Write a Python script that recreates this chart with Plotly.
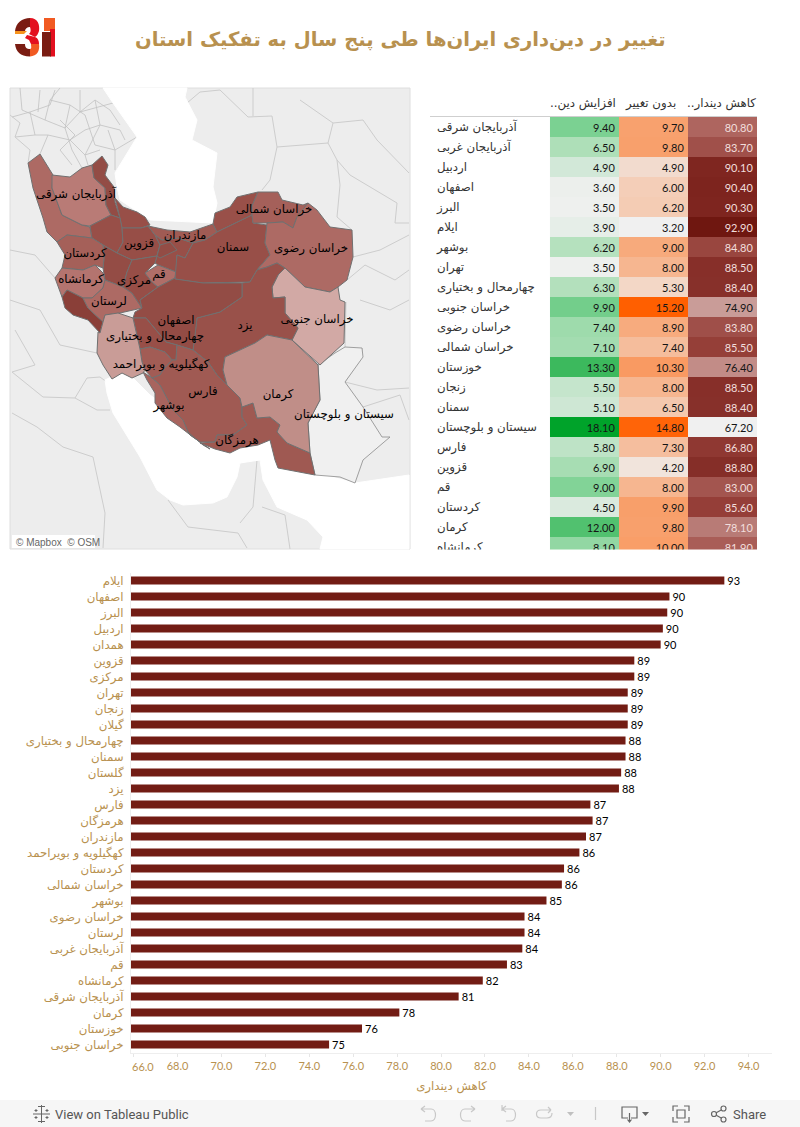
import numpy as np
import plotly.graph_objects as go

TITLE = "تغییر در دین‌داری ایران‌ها طی پنج سال به تفکیک استان"
TAN = "#b8914f"
FONT = "Lato, 'DejaVu Sans'"
AR = "'DejaVu Sans'"
RLM = "\u200f"

# ---------- bar chart data
bar_names = ["ایلام", "اصفهان", "البرز", "اردبیل", "همدان", "قزوین", "مرکزی", "تهران", "زنجان", "گیلان",
             "چهارمحال و بختیاری", "سمنان", "گلستان", "یزد", "فارس", "هرمزگان", "مازندران",
             "کهگیلویه و بویراحمد", "کردستان", "خراسان شمالی", "بوشهر", "خراسان رضوی", "لرستان",
             "آذربایجان غربی", "قم", "کرمانشاه", "آذربایجان شرقی", "کرمان", "خوزستان", "خراسان جنوبی"]
bar_values = [92.9, 90.4, 90.3, 90.1, 90.0, 88.8, 88.8, 88.5, 88.5, 88.5,
              88.4, 88.4, 88.2, 88.1, 86.8, 86.9, 86.6,
              86.3, 85.6, 85.5, 84.8, 83.8, 83.8,
              83.7, 83.0, 81.9, 80.8, 78.1, 76.4, 74.9]
x_ticks = [66, 68, 70, 72, 74, 76, 78, 80, 82, 84, 86, 88, 90, 92, 94]

# ---------- table data
table_names = ["آذربایجان شرقی", "آذربایجان غربی", "اردبیل", "اصفهان", "البرز", "ایلام", "بوشهر", "تهران",
               "چهارمحال و بختیاری", "خراسان جنوبی", "خراسان رضوی", "خراسان شمالی", "خوزستان", "زنجان",
               "سمنان", "سیستان و بلوچستان", "فارس", "قزوین", "قم", "کردستان", "کرمان", "کرمانشاه"]
table_increase = [9.4, 6.5, 4.9, 3.6, 3.5, 3.9, 6.2, 3.5, 6.3, 9.9, 7.4, 7.1, 13.3, 5.5, 5.1, 18.1, 5.8, 6.9, 9.0, 4.5, 12.0, 8.1]
table_same = [9.7, 9.8, 4.9, 6.0, 6.2, 3.2, 9.0, 8.0, 5.3, 15.2, 8.9, 7.4, 10.3, 8.0, 6.5, 14.8, 7.3, 4.2, 8.0, 9.9, 9.8, 10.0]
table_decline = [80.8, 83.7, 90.1, 90.4, 90.3, 92.9, 84.8, 88.5, 88.4, 74.9, 83.8, 85.5, 76.4, 88.5, 88.4, 67.2, 86.8, 88.8, 83.0, 85.6, 78.1, 81.9]
table_headers = ["افزایش دین.." + RLM, "بدون تغییر", "کاهش دیندار.." + RLM]

# colour ramps (value, colour) for the three table columns and the map
increase_ramp = [(3.5, "#eef0ee"), (4.9, "#d2e8d8"), (6.5, "#aedfb8"), (9.4, "#7bd192"), (13.3, "#3cb95d"), (18.1, "#00a32a")]
same_ramp = [(3.2, "#f0f0f0"), (15.2, "#ff5f00")]
decline_ramp = [(67.2, "#f0f0f0"), (74.9, "#c99c98"), (76.4, "#c28c87"), (78.1, "#b87b76"), (80.8, "#ae655f"),
                (83.7, "#a0504a"), (85.5, "#953f38"), (88.4, "#87302a"), (90.3, "#7e251f"), (92.9, "#6f1710")]
map_ramp = [(67.2, "#f0f0f0"), (74.9, "#d2a9a5"), (78.1, "#c08e88"), (80.8, "#b97b76"), (83.8, "#ad6a64"),
            (86.8, "#a05a53"), (88.5, "#984f48"), (90.4, "#934c45"), (92.9, "#8a3f38")]


def colorscale(ramp):
    lo, hi = ramp[0][0], ramp[-1][0]
    return [[(v - lo) / (hi - lo), c] for v, c in ramp]


def ramp_color(ramp, v):
    xs = [p[0] for p in ramp]
    rgb = [[int(p[1][i:i + 2], 16) for p in ramp] for i in (1, 3, 5)]
    return "rgb(%d,%d,%d)" % tuple(np.interp(v, xs, ch) for ch in rgb)


# ---------- map geometry in map units
provinces = {
    "سیستان و بلوچستان": [(318,365),(335,353),(345,347),(362,348),(363,357),(345,382),(363,407),(382,437),(390,437),(363,460),(355,483),(340,477),(315,475),(310,453),(308,423),(320,400)],
    "آذربایجان غربی": [(28,163),(40,154),(53,175),(52,188),(62,215),(82,225),(90,227),(92,238),(67,235),(57,242),(47,232),(43,218),(33,188)],
    "آذربایجان شرقی": [(52,175),(70,177),(82,168),(92,165),(94,178),(105,188),(106,205),(111,215),(90,226),(82,225),(62,215),(52,188)],
    "اردبیل": [(92,165),(102,156),(108,165),(105,175),(114,187),(115,202),(120,218),(111,215),(106,205),(105,188),(94,178)],
    "گیلان": [(115,198),(123,207),(137,212),(145,217),(150,225),(141,228),(122,228),(120,218)],
    "زنجان": [(90,226),(111,215),(120,218),(122,228),(123,242),(117,253),(103,245),(92,238)],
    "قزوین": [(122,228),(141,228),(148,226),(155,235),(160,245),(157,256),(132,260),(117,253),(123,242)],
    "تهران": [(155,235),(162,240),(178,238),(193,243),(185,258),(177,255),(176,272),(158,265),(155,263),(157,256),(160,245)],
    "البرز": [(160,245),(170,242),(177,250),(160,258),(157,256)],
    "همدان": [(103,245),(117,253),(132,260),(127,272),(123,287),(105,280),(103,268),(104,258)],
    "کردستان": [(57,242),(67,235),(92,238),(103,245),(104,258),(103,268),(95,265),(83,270),(62,268),(65,255)],
    "کرمانشاه": [(62,268),(83,270),(95,265),(103,273),(105,280),(103,288),(92,298),(83,298),(67,290),(62,297),(55,278)],
    "ایلام": [(62,297),(67,290),(83,298),(88,308),(103,322),(100,333),(88,320),(73,315),(65,308)],
    "لرستان": [(83,298),(92,298),(103,288),(105,280),(123,287),(132,293),(142,308),(120,313),(105,315),(103,322),(88,308)],
    "مرکزی": [(132,260),(157,256),(155,263),(145,273),(152,282),(158,287),(140,300),(142,308),(132,293),(123,287),(127,272)],
    "قم": [(145,273),(158,265),(176,272),(175,278),(158,287),(152,282)],
    "مازندران": [(148,226),(167,230),(190,232),(213,224),(217,232),(205,240),(193,243),(178,238),(162,240),(155,235)],
    "گلستان": [(213,224),(215,213),(230,207),(237,197),(258,192),(252,206),(252,215),(217,232)],
    "سمنان": [(217,232),(252,215),(253,223),(267,225),(265,243),(270,255),(257,270),(250,282),(203,283),(175,279),(177,255),(185,258),(193,243),(205,240)],
    "خراسان شمالی": [(258,192),(278,192),(282,200),(303,205),(308,203),(297,217),(293,228),(283,222),(267,223),(253,223),(252,215),(252,206)],
    "خراسان رضوی": [(308,203),(317,210),(330,227),(352,230),(353,257),(347,280),(338,287),(330,292),(305,287),(285,268),(277,263),(267,267),(257,270),(270,255),(265,243),(267,223),(283,222),(293,228),(297,217)],
    "خراسان جنوبی": [(278,275),(285,268),(305,287),(330,292),(338,287),(340,300),(345,302),(344,343),(320,365),(292,340),(298,328),(285,313),(285,297),(273,298),(272,287)],
    "یزد": [(285,268),(277,263),(267,267),(257,270),(250,282),(242,283),(242,297),(220,312),(197,318),(195,335),(193,350),(208,362),(217,375),(227,385),(223,370),(225,357),(255,343),(267,335),(292,340),(298,328),(285,313),(285,297),(273,298),(272,287),(278,275)],
    "اصفهان": [(133,318),(135,312),(142,308),(140,300),(158,287),(175,278),(175,279),(203,283),(242,283),(242,297),(220,312),(197,318),(195,335),(193,350),(177,345),(166,342),(146,318)],
    "چهارمحال و بختیاری": [(133,318),(146,318),(166,342),(177,345),(176,360),(172,360),(165,352),(150,347),(140,349)],
    "کهگیلویه و بویراحمد": [(140,349),(150,347),(165,352),(172,360),(163,370),(160,375),(152,378),(145,370),(142,362)],
    "فارس": [(176,360),(177,345),(193,350),(208,362),(217,375),(227,385),(240,398),(242,407),(242,417),(247,425),(233,435),(217,435),(215,442),(200,442),(190,435),(188,432),(183,420),(173,410),(160,385),(152,378),(160,375),(163,370),(172,360)],
    "بوشهر": [(143,372),(152,378),(160,385),(173,410),(183,420),(188,432),(203,445),(210,449),(193,437),(180,427),(167,418),(155,403),(155,393),(147,380)],
    "هرمزگان": [(253,403),(242,407),(242,417),(247,425),(233,435),(217,435),(215,442),(200,443),(215,449),(230,453),(240,448),(258,445),(270,440),(275,460),(278,468),(315,475),(310,453),(287,443),(277,432),(280,425),(270,417),(257,418)],
    "کرمان": [(225,357),(255,343),(267,335),(292,340),(318,365),(320,400),(308,423),(310,453),(287,443),(277,432),(280,425),(270,417),(257,418),(253,403),(242,407),(240,398),(227,385),(223,370)],
    "خوزستان": [(105,315),(118,313),(133,318),(140,349),(142,362),(145,370),(143,373),(132,378),(122,373),(112,379),(103,365),(97,353),(98,332),(100,333),(103,322)],
}
decline_by_name = dict(zip(bar_names, bar_values))
decline_by_name["سیستان و بلوچستان"] = 67.2

map_labels = [("آذربایجان شرقی", 76, 195), ("خراسان شمالی", 274, 210), ("مازندران", 185, 236), ("قزوین", 139, 244),
              ("سمنان", 233, 248), ("خراسان رضوی", 311, 249), ("کردستان", 85, 254), ("قم", 159, 275),
              ("کرمانشاه", 81, 280), ("مرکزی", 134, 281), ("لرستان", 109, 302), ("خراسان جنوبی", 317, 320),
              ("اصفهان", 176, 321), ("یزد", 245, 326), ("چهارمحال و بختیاری", 155, 337),
              ("کهگیلویه و بویراحمد", 161, 365), ("فارس", 203, 392), ("کرمان", 278, 395), ("بوشهر", 169, 406),
              ("سیستان و بلوچستان", 344, 415), ("هرمزگان", 237, 441)]

caspian = [(103,88),(113,103),(137,137),(115,173),(117,187),(120,200),(150,220),(213,223),(217,203),(213,187),(217,153),(192,140),(197,120),(185,97),(187,88)]
gulf = [(105,380),(107,393),(113,413),(140,457),(157,490),(170,500),(183,505),(213,503),(227,497),(237,477),(240,463),(260,460),(263,480),(277,507),(307,520),(323,537),(320,549),(409,549),(409,475),(355,483),(313,472),(280,440),(200,430),(150,395),(125,370)]
land_lines = [
    [(187,103),(200,92),(220,90),(235,105),(248,117),(272,116),(277,145),(277,147),(328,143),(333,123),(363,120),(377,140),(409,173)],
    [(253,88),(253,116)],
    [(277,147),(270,180),(262,190)],
    [(328,143),(337,160),(350,175),(397,203),(395,223),(409,223)],
    [(337,160),(340,185),(337,217),(352,230)],
    [(362,348),(362,357),(345,382),(377,390),(409,388)],
    [(345,347),(346,302)],
    [(347,280),(365,265),(395,280),(409,270)],
    [(12,372),(43,397),(75,398),(87,378),(100,377),(108,383)],
    [(75,398),(97,410),(110,410)],
    [(168,500),(188,527),(238,533),(247,548)],
    [(240,523),(253,507),(257,460)],
    [(12,413),(37,427),(63,447),(93,457),(105,513),(103,548)],
    [(10,115),(20,123),(15,137),(30,150),(28,163)],
    [(10,250),(35,255),(55,278)],
    [(10,300),(40,310),(60,345),(97,353)],
    [(15,330),(35,365),(12,372)],
    [(363,407),(400,395),(409,420)],
    [(360,300),(390,310),(409,300)],
    [(353,257),(380,250),(409,235)],
    [(300,100),(333,123)],
    [(325,500),(345,495),(350,549)],
    [(262,507),(285,515),(290,549)],
]
thin_lines = [
    [(20,88),(22,110),(45,120),(50,100),(60,88)],
    [(45,120),(65,128),(80,112),(113,103)],
    [(40,154),(48,135),(70,140),(85,155),(100,150)],
    [(65,128),(72,150),(82,168)],
    [(85,115),(95,145),(115,150),(137,137)],
    [(12,117),(30,112),(50,105),(55,90)],
    [(50,100),(70,105),(85,115)],
    [(60,120),(75,135),(60,150)],
    [(80,112),(95,100),(110,110),(120,125)],
    [(95,100),(100,125),(85,155)],
    [(100,125),(120,130),(125,140)],
    [(70,105),(65,128)],
    [(30,112),(35,135),(48,135)],
    [(15,137),(35,135)],
    [(115,150),(115,170)],
    [(70,140),(85,130),(100,125)],
    [(60,150),(72,165)],
    [(85,155),(88,165)],
    [(108,130),(115,150)],
    [(40,90),(38,112)],
    [(80,90),(80,112)],
]


def xy(points):
    return [p[0] for p in points], [p[1] for p in points]


fig = go.Figure()

# ---------- page overlay axes (x2/y2): map
fig.add_trace(go.Scatter(x=[10, 410, 410, 10, 10], y=[88, 88, 549, 549, 88], mode="lines", fill="toself",
                         fillcolor="#ededed", line=dict(color="#dedede", width=1), xaxis="x2", yaxis="y2", hoverinfo="skip"))
for line in thin_lines:
    lx, ly = xy(line)
    fig.add_trace(go.Scatter(x=lx, y=ly, mode="lines", line=dict(color="#c2c2c2", width=0.8), xaxis="x2", yaxis="y2", hoverinfo="skip"))
for line in land_lines:
    lx, ly = xy(line)
    fig.add_trace(go.Scatter(x=lx, y=ly, mode="lines", line=dict(color="#cdcdcd", width=1), xaxis="x2", yaxis="y2", hoverinfo="skip"))
for sea in (caspian, gulf):
    sx, sy = xy(sea + sea[:1])
    fig.add_trace(go.Scatter(x=sx, y=sy, mode="lines", fill="toself", fillcolor="white", line=dict(color="white", width=1),
                             xaxis="x2", yaxis="y2", hoverinfo="skip"))
for name, pts in provinces.items():
    px, py = xy(pts + pts[:1])
    is_sistan = name == "سیستان و بلوچستان"
    fig.add_trace(go.Scatter(x=px, y=py, mode="lines", fill="toself",
                             fillcolor=ramp_color(map_ramp, decline_by_name[name]),
                             line=dict(color="#8a8a8a" if is_sistan else "#707070", width=0.8 if is_sistan else 1.0),
                             xaxis="x2", yaxis="y2", hoverinfo="skip"))
fig.add_trace(go.Scatter(x=[l[1] for l in map_labels], y=[l[2] for l in map_labels], text=[l[0] for l in map_labels],
                         mode="text", textposition="middle center", textfont=dict(family=AR, size=11.8, color="#000"),
                         xaxis="x2", yaxis="y2", hoverinfo="skip"))

# ---------- table
columns = [(table_increase, increase_ramp), (table_same, same_ramp), (table_decline, decline_ramp)]
rows = list(range(len(table_names)))
thresholds = [95, 125, 150]
for i, (vals, ramp) in enumerate(columns):
    fig.add_trace(go.Heatmap(z=[[v] for v in vals], x=[i], y=rows, colorscale=colorscale(ramp),
                             zmin=ramp[0][0], zmax=ramp[-1][0], showscale=False, xaxis="x3", yaxis="y3", hoverinfo="skip"))
    lum = []
    for v in vals:
        r, g, b = [float(t) for t in ramp_color(ramp, v)[4:-1].split(",")]
        lum.append(0.3 * r + 0.59 * g + 0.11 * b)
    light = "#f2dedc" if i == 2 else "#ffffff"
    colors = [light if l < thresholds[i] else "#151515" for l in lum]
    fig.add_trace(go.Scatter(x=[i + 0.44] * len(vals), y=[r + 0.12 for r in rows], text=["%.2f" % v for v in vals], mode="text",
                             textposition="middle left", textfont=dict(family=FONT, size=11, color=colors),
                             xaxis="x3", yaxis="y3", hoverinfo="skip"))
fig.add_trace(go.Scatter(x=[-2.138] * len(rows), y=[r + 0.05 for r in rows], text=table_names, mode="text", textposition="middle right",
                         textfont=dict(family=AR, size=11.8, color="#333"), xaxis="x3", yaxis="y3", hoverinfo="skip"))

# ---------- bars
fig.add_trace(go.Bar(y=bar_names, x=bar_values, orientation="h", marker=dict(color="#721c14", line=dict(width=0)), width=0.5,
                     texttemplate="%{x:.0f}", textposition="outside", cliponaxis=False, constraintext="none",
                     textfont=dict(family=FONT, size=11, color="#000"), hoverinfo="skip", xaxis="x", yaxis="y"))

W, H = 800.0, 1127.0
shapes = [
    dict(type="rect", xref="x2", yref="y2", x0=0, x1=800, y0=1100, y1=1127, fillcolor="#f6f6f6", line=dict(width=0), layer="below"),
    dict(type="line", xref="x2", yref="y2", x0=430, x1=757, y0=116.5, y1=116.5, line=dict(color="#cfcfcf", width=1)),
    dict(type="rect", xref="x2", yref="y2", x0=12, x1=95, y0=535, y1=548, fillcolor="white", line=dict(width=0), layer="above"),
]


def path(d, stroke=None, fill=None, width=1.2):
    shapes.append(dict(type="path", xref="x2", yref="y2", path=d, fillcolor=fill or "rgba(0,0,0,0)",
                       line=dict(color=stroke or "rgba(0,0,0,0)", width=width)))


# logo
path("M15,31 C16,23 22,18 30,18 L30,27 C27,27 25,29 25,31 Z", fill="#7a1c12")
path("M30,18 C38,18 40,25 39,31 C38,34 37,36 35,37 L29,34 C31,32 31,30 30,27 Z", fill="#e3101f")
path("M15,31 L27,31 L24,34 L15,34 Z", fill="#f7941d")
path("M27,35 L35,37 C38,38 39,41 39,44 L31,44 L29,40 L25,38 Z", fill="#e3101f")
path("M15,44 L25,44 C25,48 27,49 30,49 L30,56.5 C20,56 16,52 15,44 Z", fill="#7a1c12")
path("M30,49 C32,49 31,46 31,44 L39,44 C40,51 37,56 30,56.5 Z", fill="#f15a22")
path("M44,18 L55,18 L55,31 L44,31 Z", fill="#f15a22")
path("M50,29 L55,29 L55,56.5 L50,56.5 Z", fill="#e3101f")
path("M42,32 L51,32 L51,56.5 L42,56.5 Z", fill="#7a1c12")

# toolbar icons
LG = "#c8c8c8"
DG = "#666666"
path("M421,1109 L431,1109 C437,1109 437,1121 431,1121 L425,1121 M421,1109 L425,1106 M421,1109 L425,1112", stroke=LG)
path("M475,1109 L465,1109 C459,1109 459,1121 465,1121 L471,1121 M475,1109 L471,1106 M475,1109 L471,1112", stroke=LG)
path("M502,1109 L511,1109 C517,1109 517,1121 511,1121 L506,1121 M502,1105 L502,1111 M502,1109 L506,1106 M502,1109 L506,1112", stroke=LG)
path("M551,1110 L541,1110 C535,1110 535,1118 541,1118 L547,1118 C551,1118 552,1116 552,1113 M551,1110 L548,1107 M551,1110 L548,1113", stroke=LG)
path("M567,1112 L574,1112 L570.5,1116 Z", fill="#c0c0c0")
path("M595.5,1107 L595.5,1120", stroke=LG)
path("M628,1118 L622,1118 L622,1107 L637,1107 L637,1118 L631,1118 M629.5,1113 L629.5,1121 M627.5,1119.5 L629.5,1122 L631.5,1119.5", stroke=DG)
path("M642,1112 L649,1112 L645.5,1116 Z", fill=DG)
path("M673,1111 L673,1106 L678,1106 M684,1106 L689,1106 L689,1111 M689,1117 L689,1122 L684,1122 M678,1122 L673,1122 L673,1117 M677,1110 L685,1110 L685,1118 L677,1118 Z", stroke=DG)
path("M714,1114 L723,1109 M714,1114 L723,1119", stroke=DG)
for cx, cy in [(714, 1114), (723.5, 1108.5), (723.5, 1119.5)]:
    shapes.append(dict(type="circle", xref="x2", yref="y2", x0=cx - 2.5, x1=cx + 2.5, y0=cy - 2.5, y1=cy + 2.5,
                       fillcolor="#f6f6f6", line=dict(color=DG, width=1.2)))
path("M41.5,1105 L41.5,1123 M33,1114 L50,1114 M36,1109 L36,1112 M34.5,1110.5 L37.5,1110.5 M47,1109 L47,1112 M45.5,1110.5 L48.5,1110.5 M36,1116 L36,1119 M34.5,1117.5 L37.5,1117.5 M47,1116 L47,1119 M45.5,1117.5 L48.5,1117.5 M38,1106.5 L45,1106.5 M38,1121.5 L45,1121.5", stroke=DG, width=1)

annotations = [
    dict(text=TITLE, xref="x2", yref="y2", x=400.5, y=39.5, showarrow=False, font=dict(family=AR, size=19.6, color=TAN, weight="bold")),
    dict(text="66.0", xref="x", yref="paper", x=66, y=(H - 1066) / H, yanchor="middle", xshift=-4, xanchor="left", showarrow=False,
         font=dict(family=FONT, size=11, color=TAN)),
    dict(text="© Mapbox  © OSM", xref="x2", yref="y2", x=14, y=542, xanchor="left", showarrow=False,
         font=dict(family="'Liberation Sans'", size=10, color="#666")),
    dict(text="View on Tableau Public", xref="x2", yref="y2", x=53, y=1114, xanchor="left", showarrow=False,
         font=dict(family="Roboto", size=13, color="#555")),
    dict(text="Share", xref="x2", yref="y2", x=731, y=1114, xanchor="left", showarrow=False,
         font=dict(family="Roboto", size=13, color="#555")),
]
for i, h in enumerate(table_headers):
    annotations.append(dict(text=h, xref="x2", yref="y2", x=[618, 678, 758][i], y=103, xanchor="right", showarrow=False,
                            font=dict(family=AR, size=11.8, color="#333")))

fig.update_layout(
    width=800, height=1127, margin=dict(l=0, r=0, t=0, b=0), paper_bgcolor="white", plot_bgcolor="rgba(0,0,0,0)",
    showlegend=False, shapes=shapes, annotations=annotations, bargap=0.5, hovermode=False,
    xaxis=dict(domain=[131 / W, 772 / W], range=[65.88, 95.07], tickmode="array", tickvals=x_ticks,
               ticktext=[""] + ["%.1f" % t for t in x_ticks[1:]], tickfont=dict(family=FONT, size=11, color=TAN),
               ticks="outside", ticklen=3, tickcolor="#e6e6e6", showgrid=False, zeroline=False,
               showline=True, linecolor="#eeeeee", linewidth=1, anchor="y",
               title=dict(text="کاهش دینداری", font=dict(family=AR, size=11.8, color=TAN), standoff=11)),
    yaxis=dict(domain=[(H - 1052.5) / H, (H - 572.5) / H], autorange=False, range=[29.5, -0.5], type="category",
               tickfont=dict(family=AR, size=11.8, color=TAN), ticks="", ticklen=0, showgrid=False, zeroline=False,
               showline=True, linecolor="#eeeeee", linewidth=1, anchor="x", automargin=False, ticklabelstandoff=4),
    xaxis2=dict(domain=[0, 1], range=[0, 800], visible=False, anchor="y2", fixedrange=True),
    yaxis2=dict(domain=[0, 1], range=[1127, 0], visible=False, anchor="x2", fixedrange=True),
    xaxis3=dict(domain=[430 / W, 757 / W], range=[-2.239, 2.5], visible=False, anchor="y3"),
    yaxis3=dict(domain=[(H - 549.5) / H, (H - 117) / H], range=[21.125, -0.5], visible=False, anchor="x3"),
)

fig.write_html("out.html", config=dict(displayModeBar=False), post_script="document.body.style.margin='0';document.documentElement.style.overflow='hidden';")
